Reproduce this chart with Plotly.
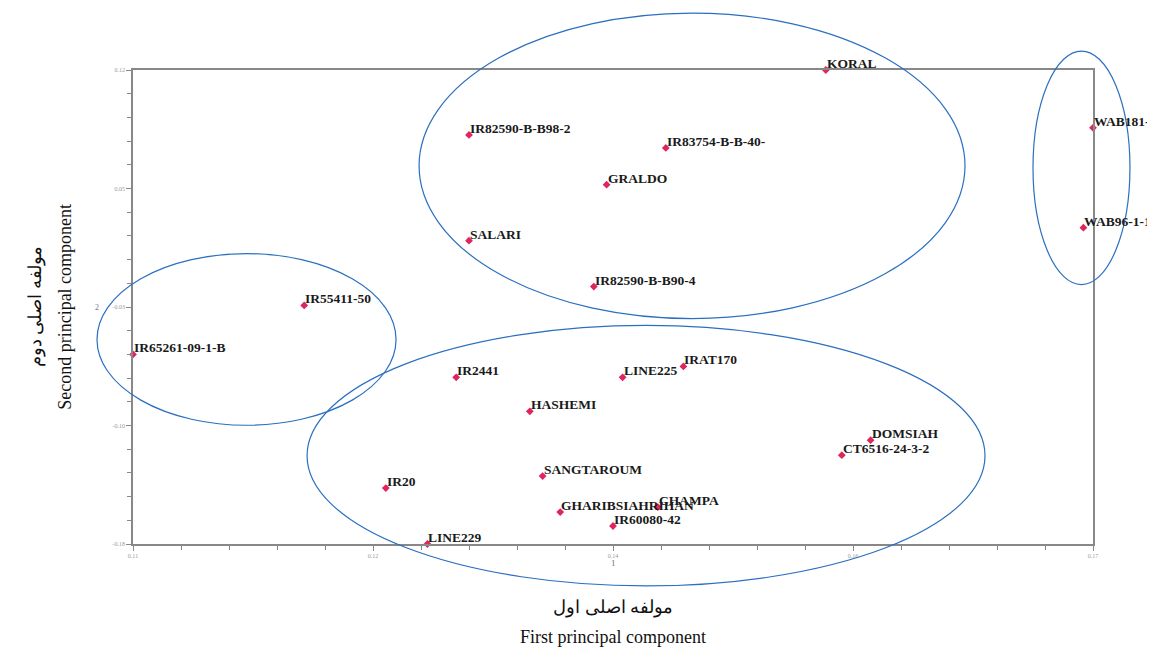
import plotly.graph_objects as go

# ---- data ----
genotypes = ["KORAL", "WAB181-", "IR82590-B-B98-2", "IR83754-B-B-40-", "GRALDO",
             "WAB96-1-1", "SALARI", "IR82590-B-B90-4", "IR55411-50", "IR65261-09-1-B",
             "IRAT170", "LINE225", "IR2441", "HASHEMI", "DOMSIAH", "CT6516-24-3-2",
             "SANGTAROUM", "IR20", "GHARIBSIAHRIHAN", "CHAMPA", "IR60080-42", "LINE229"]
pc1 = [0.1533, 0.1700, 0.1310, 0.1433, 0.1396,
       0.1694, 0.1310, 0.1388, 0.1207, 0.1100,
       0.1444, 0.1406, 0.1302, 0.1348, 0.1561, 0.1543,
       0.1356, 0.1258, 0.1367, 0.1428, 0.1400, 0.1284]
pc2 = [0.1200, 0.0834, 0.0789, 0.0707, 0.0474,
       0.0202, 0.0120, -0.0171, -0.0290, -0.0600,
       -0.0676, -0.0745, -0.0745, -0.0960, -0.1143, -0.1238,
       -0.1370, -0.1446, -0.1598, -0.1566, -0.1686, -0.1800]

x_tickvals = [0.11, 0.125, 0.14, 0.155, 0.17]
x_ticktext = ["0.11", "0.12", "0.14", "0.16", "0.17"]
y_tickvals = [0.12, 0.045, -0.03, -0.105, -0.18]
y_ticktext = ["0.12", "0.05", "-0.03", "-0.10", "-0.18"]

# group ellipses in data coordinates: (x0, x1, y0, y1)
groups = [
    (0.12788, 0.16200, -0.03730, 0.15600),   # top middle
    (0.16625, 0.17231, -0.01579, 0.13200),   # right
    (0.10775, 0.12644, -0.10484, 0.00379),   # left
    (0.12088, 0.16325, -0.20653, -0.04168),  # bottom
]

X_RANGE = [0.11, 0.17]
Y_RANGE = [-0.18, 0.12]

fig = go.Figure()
fig.add_trace(go.Scatter(
    x=pc1, y=pc2, mode="markers",
    marker=dict(symbol="diamond", size=6, color="#e0245e"),
    cliponaxis=False, showlegend=False, hoverinfo="skip",
))

label_font = dict(family="Liberation Serif", size=13.5, color="#1a1a1a", weight="bold")
annotations = []
for name, xv, yv in zip(genotypes, pc1, pc2):
    annotations.append(dict(x=xv, y=yv, xref="x", yref="y", text=name, showarrow=False,
                            xanchor="left", yanchor="bottom", xshift=-1, yshift=-3,
                            font=label_font))


def to_paper_x(v):
    return (v - X_RANGE[0]) / (X_RANGE[1] - X_RANGE[0])


def to_paper_y(v):
    return (v - Y_RANGE[0]) / (Y_RANGE[1] - Y_RANGE[0])


for (x0, x1, y0, y1) in groups:
    fig.add_shape(type="circle", xref="paper", yref="paper",
                  x0=to_paper_x(x0), x1=to_paper_x(x1),
                  y0=to_paper_y(y0), y1=to_paper_y(y1),
                  line=dict(color="#2a6fc0", width=1.2), layer="above")

axis_common = dict(
    showgrid=False, zeroline=False, showline=True, linecolor="#888888", linewidth=1.5,
    mirror=True, ticks="outside", ticklen=5, tickcolor="#888888",
    tickfont=dict(family="Liberation Serif", size=6, color="#999999"),
)

fig.update_xaxes(range=X_RANGE, tickmode="array", tickvals=x_tickvals, ticktext=x_ticktext,
                 minor=dict(ticks="outside", tickmode="linear", tick0=0.11, dtick=0.003,
                            ticklen=4, tickcolor="#888888"),
                 **axis_common)
fig.update_yaxes(range=Y_RANGE, tickmode="array", tickvals=y_tickvals, ticktext=y_ticktext,
                 minor=dict(ticks="outside", tickmode="linear", tick0=-0.18, dtick=0.015,
                            ticklen=4, tickcolor="#888888"),
                 **axis_common)

title_font = dict(family="Liberation Serif", size=18, color="#111111")
annotations += [
    dict(text="مولفه اصلی اول", x=0.5, y=-0.135, xref="paper", yref="paper",
         showarrow=False, font=title_font, xanchor="center", yanchor="middle"),
    dict(text="First principal component", x=0.5, y=-0.196, xref="paper", yref="paper",
         showarrow=False, font=title_font, xanchor="center", yanchor="middle"),
    dict(text="مولفه اصلی دوم", x=-0.102, y=0.5, xref="paper", yref="paper", textangle=-90,
         showarrow=False, font=title_font, xanchor="center", yanchor="middle"),
    dict(text="Second principal component", x=-0.071, y=0.5, xref="paper", yref="paper",
         textangle=-90, showarrow=False, font=title_font, xanchor="center", yanchor="middle"),
    dict(text="1", x=0.5, y=-0.055, xref="paper", yref="paper", showarrow=False,
         font=dict(family="Liberation Serif", size=9, color="#777777")),
    dict(text="2", x=-0.042, y=to_paper_y(-0.03), xref="paper", yref="paper", showarrow=False,
         font=dict(family="Liberation Serif", size=8, color="#777777")),
]

fig.update_layout(
    width=1155, height=664,
    margin=dict(l=125, r=70, t=62, b=128),
    paper_bgcolor="white", plot_bgcolor="white",
    annotations=annotations,
)

fig.write_html("out.html")
